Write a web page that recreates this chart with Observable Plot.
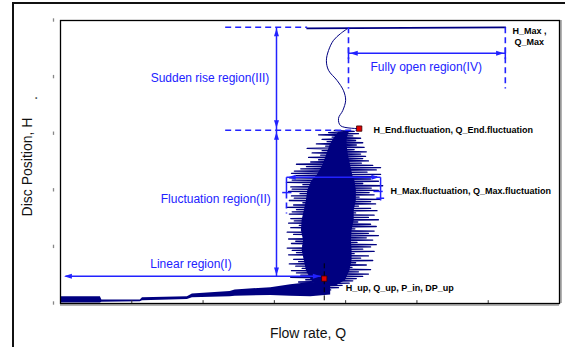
<!DOCTYPE html>
<html><head><meta charset="utf-8">
<script src="https://cdn.jsdelivr.net/npm/d3@7"></script>
<script src="https://cdn.jsdelivr.net/npm/@observablehq/plot@0.6"></script>
<style>
html,body{margin:0;padding:0;background:#fff;}
#wrap{position:relative;width:565px;height:347px;overflow:hidden;background:#fff;}
#outer{position:absolute;left:12px;top:2px;width:600px;height:400px;border:2px solid #111;box-sizing:border-box;pointer-events:none;}
#chart{position:absolute;left:0;top:0;}
</style></head><body>
<div id="wrap"><div id="chart"></div><div id="outer"></div></div>
<script>
// ---- axes ----
const xTicks = [0, 1, 2, 3, 4, 5, 6, 7];
const yTicks = [0, 1, 2, 3, 4, 5];
const xLabel = "Flow rate, Q";
const yLabel = "Disc Position, H";

// ---- linear region trace (band) ----
const bandQ  = [0.00, 0.56, 0.58, 1.12, 1.15, 1.78, 1.85, 2.38, 2.45, 2.95, 3.23, 3.51, 3.79];
const bandLo = [0.01, 0.01, 0.02, 0.03, 0.05, 0.07, 0.10, 0.12, 0.13, 0.14, 0.13, 0.12, 0.15];
const bandHi = [0.12, 0.12, 0.06, 0.06, 0.10, 0.12, 0.17, 0.21, 0.24, 0.28, 0.33, 0.37, 0.33];

// ---- fluctuation region: dense core ----
const coreH = [0.32, 0.41, 0.58, 0.76, 0.94, 1.11, 1.29, 1.47, 1.64, 1.82, 2.00, 2.17, 2.26, 2.44, 2.61, 2.79, 2.92, 3.02];
const coreL = [3.60, 3.52, 3.45, 3.42, 3.39, 3.41, 3.38, 3.39, 3.42, 3.45, 3.47, 3.53, 3.60, 3.68, 3.73, 3.78, 3.84, 3.90];
const coreR = [3.88, 4.00, 4.06, 4.09, 4.09, 4.08, 4.09, 4.12, 4.12, 4.15, 4.15, 4.13, 4.10, 4.07, 4.04, 4.02, 4.02, 4.05];

// ---- fluctuation region: oscillating trace ----
const fluctH = [
  0.24,0.26,0.28,0.30,0.32,0.34,0.36,0.38,0.40,0.42,
  0.44,0.46,0.48,0.50,0.52,0.54,0.56,0.58,0.60,0.62,
  0.64,0.66,0.68,0.70,0.72,0.74,0.76,0.78,0.80,0.82,
  0.84,0.86,0.88,0.90,0.92,0.94,0.96,0.98,1.00,1.02,
  1.04,1.06,1.08,1.10,1.12,1.14,1.16,1.18,1.20,1.22,
  1.24,1.26,1.28,1.30,1.32,1.34,1.36,1.38,1.40,1.42,
  1.44,1.46,1.48,1.50,1.52,1.54,1.56,1.58,1.60,1.62,
  1.64,1.66,1.68,1.70,1.72,1.74,1.76,1.78,1.80,1.82,
  1.84,1.86,1.88,1.90,1.92,1.94,1.96,1.98,2.00,2.02,
  2.04,2.06,2.08,2.10,2.12,2.14,2.16,2.18,2.20,2.22,
  2.24,2.26,2.28,2.30,2.32,2.34,2.36,2.38,2.40,2.42,
  2.44,2.46,2.48,2.50,2.52,2.54,2.56,2.58,2.60,2.62,
  2.64,2.66,2.68,2.70,2.72,2.74,2.76,2.78,2.80,2.82,
  2.84,2.86,2.88,2.90,2.92,2.94,2.96,2.98,3.00,3.02,
  3.04,3.06];
const fluctQ = [
  3.79,3.30,3.90,3.48,3.95,3.37,4.05,3.34,4.10,3.44,
  4.15,3.23,4.24,3.37,4.32,3.31,4.18,3.24,4.35,3.39,
  4.09,3.30,4.29,3.21,4.14,3.34,4.38,3.27,4.21,3.42,
  4.32,3.20,4.12,3.31,4.40,3.25,4.24,3.18,4.35,3.40,
  4.43,3.24,4.16,3.30,4.38,3.20,4.29,3.41,4.46,3.27,
  4.32,3.18,4.40,3.38,4.13,3.23,4.43,3.35,4.35,3.20,
  4.17,3.28,4.46,3.23,4.32,3.42,4.40,3.21,4.14,3.25,
  4.44,3.31,4.35,3.17,4.18,3.27,4.42,3.40,4.35,3.21,
  4.49,3.28,4.19,3.24,4.40,3.36,4.33,3.20,4.46,3.25,
  4.36,3.23,4.52,3.40,4.24,3.17,4.46,3.25,4.35,3.21,
  4.43,3.30,4.49,3.24,4.30,3.28,4.43,3.37,4.49,3.45,
  4.38,3.31,4.22,3.51,4.32,3.62,4.24,3.48,4.28,3.65,
  4.21,3.53,4.29,3.67,4.12,3.46,4.26,3.72,4.15,3.59,
  4.24,3.74,4.14,3.67,4.21,3.81,4.10,3.62,4.18,3.76,
  4.12,3.84];

// ---- sudden rise region trace ----
const riseQ = [4.19, 3.93, 3.90, 3.96, 4.00, 3.97, 3.88, 3.76, 3.73, 3.76, 3.83, 3.93, 4.03];
const riseH = [3.09, 3.14, 3.27, 3.41, 3.59, 3.76, 3.94, 4.12, 4.29, 4.47, 4.65, 4.77, 4.86];

// ---- fully open region trace ----
const openQ = [3.46, 6.24];
const openH = [4.86, 4.88];

// ---- key points ----
const keyQ = [4.19, 3.70];
const keyH = [3.09, 0.44];

// ---- annotation segments [q1, h1, q2, h2] ----
const solidSegs = [
  [3.03, 4.88, 3.03, 3.06], [3.03, 3.06, 3.03, 0.48], [0.07, 0.48, 3.65, 0.48],
  [3.17, 2.23, 4.49, 2.23], [3.17, 2.23, 3.17, 1.96], [4.49, 2.23, 4.49, 1.82],
  [3.11, 1.96, 3.24, 1.96], [4.39, 1.98, 4.52, 1.98], [4.43, 1.86, 4.54, 1.86],
  [4.04, 4.42, 6.24, 4.42], [4.04, 4.52, 4.04, 4.32], [6.24, 4.52, 6.24, 4.32]
];
const dashSegs = [
  [2.31, 4.88, 3.46, 4.88], [2.31, 3.06, 4.14, 3.06], [3.17, 1.96, 3.17, 1.59],
  [4.04, 4.88, 4.04, 3.80], [6.24, 4.88, 6.24, 3.80]
];
const upQupSeg = [[3.70, 0.71, 3.70, 0.05]];
const headsUp    = [[3.03, 4.86], [3.03, 3.03]];
const headsDown  = [[3.03, 3.10], [3.03, 0.50]];
const headsLeft  = [[0.05, 0.48], [4.06, 4.42], [3.19, 2.23]];
const headsRight = [[3.65, 0.48], [6.22, 4.42], [4.47, 2.23]];

// ---- labels ----
const regionLabelsEnd = [
  {t: "Sudden rise region(III)", q: 2.93, h: 3.99},
  {t: "Fluctuation region(II)", q: 2.95, h: 1.84}
];
const regionLabelsMid = [
  {t: "Linear region(I)", q: 1.83, h: 0.69},
  {t: "Fully open region(IV)", q: 5.13, h: 4.17}
];
const pointLabels = [
  {t: "H_Max ,", q: 6.34, h: 4.82},
  {t: "Q_Max", q: 6.37, h: 4.61},
  {t: "H_End.fluctuation, Q_End.fluctuation", q: 4.39, h: 3.07},
  {t: "H_Max.fluctuation, Q_Max.fluctuation", q: 4.63, h: 1.98},
  {t: "H_up, Q_up, P_in, DP_up", q: 4.00, h: 0.27}
];

// ---- build tables ----
const bandRows = bandQ.map((q, i) => ({q, lo: bandLo[i], hi: bandHi[i]}));
const coreRows = coreH.map((h, i) => ({h, l: coreL[i], r: coreR[i]}));
const fluctRows = fluctH.map((h, i) => ({h, q: fluctQ[i]}));
const riseRows = riseQ.map((q, i) => ({q, h: riseH[i]}));
const openRows = openQ.map((q, i) => ({q, h: openH[i]}));
const keyRows = keyQ.map((q, i) => ({q, h: keyH[i]}));
const seg = s => ({x1: s[0], y1: s[1], x2: s[2], y2: s[3]});

function tri(dir) {
  return {draw(ctx, size) {
    const L = Math.sqrt(size) * 1.1, W = L * 0.32;
    ctx.moveTo(0, 0);
    if (dir === "up") { ctx.lineTo(W, L); ctx.lineTo(-W, L); }
    if (dir === "down") { ctx.lineTo(W, -L); ctx.lineTo(-W, -L); }
    if (dir === "left") { ctx.lineTo(L, W); ctx.lineTo(L, -W); }
    if (dir === "right") { ctx.lineTo(-L, W); ctx.lineTo(-L, -W); }
    ctx.closePath();
  }};
}

const navy = "#000080";
const blue = "#2222ff";
const font = "Liberation Sans, Arial, sans-serif";

const heads = (arr, dir) => Plot.dot(arr, {x: d => d[0], y: d => d[1], symbol: tri(dir), r: 4, fill: blue, stroke: "none"});

const chart = Plot.plot({
  width: 565, height: 347,
  marginLeft: 60, marginTop: 20, marginRight: 6, marginBottom: 44,
  style: {fontFamily: font, background: "transparent"},
  x: {domain: [0, 7], axis: null},
  y: {domain: [0, 5], axis: null},
  marks: [
    Plot.areaY(bandRows, {x: "q", y1: "lo", y2: "hi", fill: navy}),
    Plot.areaX(coreRows, {y: "h", x1: "l", x2: "r", fill: navy}),
    Plot.line(fluctRows, {x: "q", y: "h", stroke: navy, strokeWidth: 1.3}),
    Plot.line(riseRows, {x: "q", y: "h", stroke: navy, strokeWidth: 1, curve: "catmull-rom"}),
    Plot.line(openRows, {x: "q", y: "h", stroke: navy, strokeWidth: 1.7}),
    Plot.link(solidSegs.map(seg), {x1: "x1", y1: "y1", x2: "x2", y2: "y2", stroke: blue, strokeWidth: 1.5}),
    Plot.link(dashSegs.map(seg), {x1: "x1", y1: "y1", x2: "x2", y2: "y2", stroke: blue, strokeWidth: 1.6, strokeDasharray: "6,4"}),
    heads(headsUp, "up"), heads(headsDown, "down"), heads(headsLeft, "left"), heads(headsRight, "right"),
    Plot.link(upQupSeg.map(seg), {x1: "x1", y1: "y1", x2: "x2", y2: "y2", stroke: "#000", strokeWidth: 1, strokeDasharray: "5,3"}),
    Plot.dot(keyRows, {x: "q", y: "h", symbol: "square", r: 3, fill: "#e00000", stroke: "#300", strokeWidth: 0.8}),
    Plot.text(regionLabelsEnd, {x: "q", y: "h", text: "t", textAnchor: "end", fill: blue, fontSize: 12, lineAnchor: "middle"}),
    Plot.text(regionLabelsMid, {x: "q", y: "h", text: "t", textAnchor: "middle", fill: blue, fontSize: 12, lineAnchor: "middle"}),
    Plot.text(pointLabels, {x: "q", y: "h", text: "t", textAnchor: "start", fill: "#000", fontSize: 9, fontWeight: "bold", lineAnchor: "middle"}),
    Plot.ruleY([0], {stroke: "#999", strokeWidth: 1.5, dy: 1.5}),
    Plot.ruleX([7], {stroke: "#999", strokeWidth: 1.5, dx: 1.5}),
    Plot.frame({stroke: "#000", strokeWidth: 1.3}),
    Plot.ruleX(xTicks.slice(1, -1), {x: d => d, y1: 0, y2: 0.05, stroke: "#333", strokeWidth: 1}),
    Plot.ruleX(yTicks, {x: 0, y1: d => d - 0.03, y2: d => d + 0.03, dx: -7, stroke: "#888", strokeWidth: 1.3}),
    Plot.text([xLabel], {frameAnchor: "bottom", dy: 30, dx: -2, text: d => d, fontSize: 14, fill: "#111", textAnchor: "middle", lineAnchor: "middle"}),
    Plot.text([yLabel], {frameAnchor: "left", dx: -33, dy: 5, rotate: -90, text: d => d, fontSize: 14, fill: "#111", textAnchor: "middle", lineAnchor: "middle"}),
    Plot.text(["."], {frameAnchor: "left", dx: -28, dy: -64, rotate: -90, text: d => d, fontSize: 14, fill: "#111", textAnchor: "middle", lineAnchor: "middle"})
  ]
});
document.getElementById("chart").appendChild(chart);
</script></body></html>
